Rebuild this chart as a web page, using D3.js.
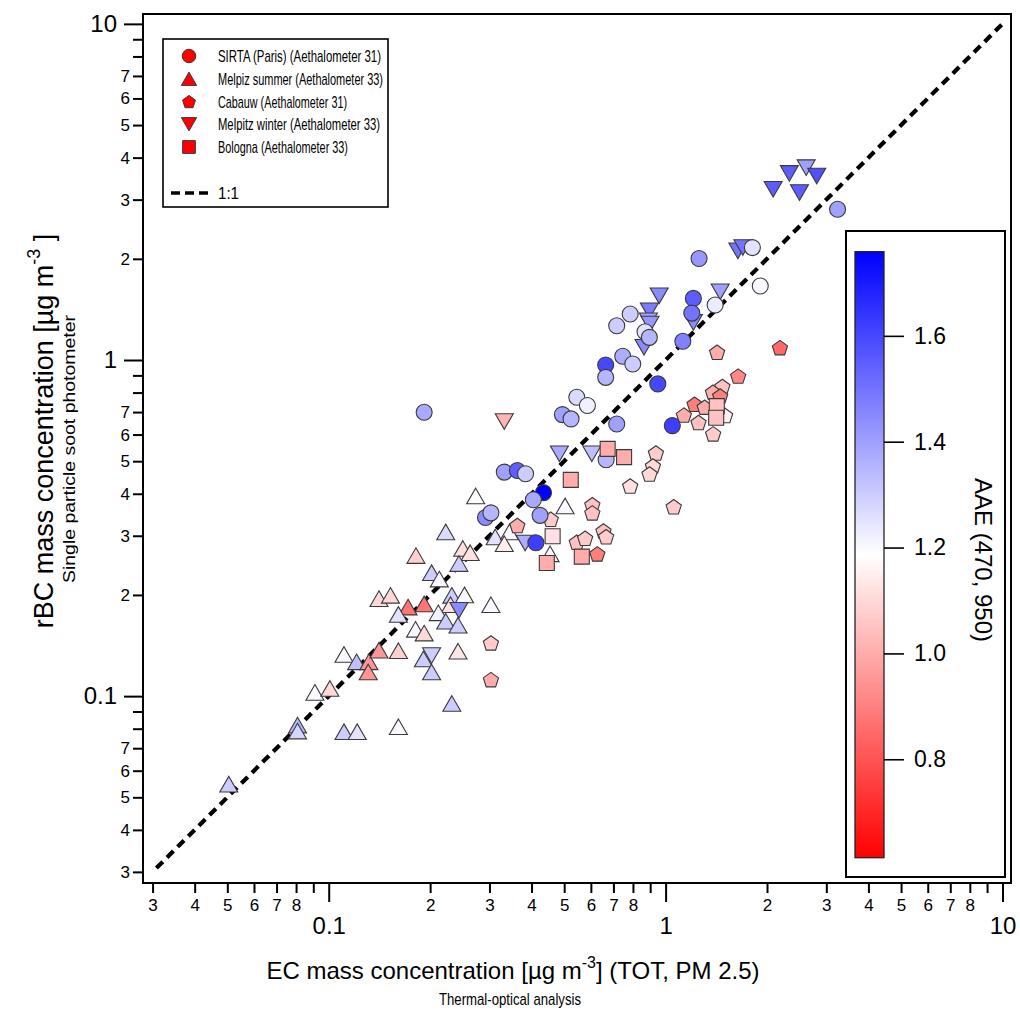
<!DOCTYPE html>
<html>
<head>
<meta charset="utf-8">
<script src="https://cdn.jsdelivr.net/npm/d3@7"></script>
<style>
  body { margin: 0; background: #fff; }
  svg { display: block; }
  text { font-family: "Liberation Sans", Arial, Helvetica, sans-serif; fill: #000; }
</style>
</head>
<body>
<svg id="chart" width="1020" height="1012"></svg>
<script>
// ---- data: EC (thermal-optical) vs rBC (SP2), coloured by AAE(470,950) ----
const sirtaEC  = [3.24, 1.257, 1.81, 1.91, 1.403, 1.209, 1.196, 1.125, 0.785, 0.716, 0.869, 0.895, 0.664, 0.664, 0.746, 0.799, 0.948, 0.545, 0.586, 0.494, 0.524, 0.716, 1.047, 0.192, 0.666, 0.332, 0.363, 0.384, 0.434, 0.405, 0.292, 0.303, 0.424, 0.412];
const sirtaRBC = [2.81, 2.005, 2.16, 1.66, 1.457, 1.525, 1.379, 1.137, 1.370, 1.264, 1.214, 1.168, 0.966, 0.888, 1.026, 0.973, 0.849, 0.775, 0.732, 0.688, 0.668, 0.645, 0.638, 0.699, 0.505, 0.464, 0.469, 0.459, 0.403, 0.384, 0.340, 0.351, 0.345, 0.286];
const sirtaAAE = [1.40, 1.42, 1.25, 1.20, 1.23, 1.55, 1.50, 1.47, 1.30, 1.30, 1.25, 1.35, 1.60, 1.35, 1.37, 1.30, 1.60, 1.27, 1.22, 1.40, 1.35, 1.40, 1.62, 1.38, 1.35, 1.40, 1.55, 1.30, 1.76, 1.38, 1.45, 1.35, 1.40, 1.62];

const summerEC  = [0.273, 0.503, 0.2225, 0.312, 0.344, 0.332, 0.454, 0.250, 0.263, 0.2435, 0.1815, 0.202, 0.213, 0.141, 0.1525, 0.172, 0.192, 0.161, 0.232, 0.253, 0.230, 0.303, 0.2115, 0.2225, 0.242, 0.181, 0.192, 0.111, 0.121, 0.1316, 0.131, 0.141, 0.161, 0.191, 0.202, 0.242, 0.091, 0.1008, 0.232, 0.0808, 0.0808, 0.111, 0.1215, 0.161, 0.0505];
const summerRBC = [0.394, 0.368, 0.308, 0.2975, 0.308, 0.284, 0.265, 0.275, 0.267, 0.248, 0.262, 0.233, 0.223, 0.195, 0.1995, 0.184, 0.188, 0.175, 0.1995, 0.200, 0.187, 0.187, 0.177, 0.167, 0.1625, 0.158, 0.154, 0.133, 0.1265, 0.1265, 0.118, 0.137, 0.1365, 0.129, 0.118, 0.136, 0.1026, 0.1054, 0.0951, 0.082, 0.0787, 0.0784, 0.0784, 0.0811, 0.0547];
const summerAAE = [1.18, 1.20, 1.27, 1.25, 1.20, 1.15, 1.20, 1.12, 1.12, 1.30, 1.08, 1.30, 1.20, 1.10, 1.10, 0.88, 0.88, 1.25, 1.30, 1.20, 1.12, 1.20, 1.22, 1.30, 1.30, 1.20, 1.10, 1.20, 1.33, 0.95, 0.95, 0.95, 1.08, 1.30, 1.30, 1.13, 1.20, 1.10, 1.30, 1.35, 1.28, 1.30, 1.25, 1.20, 1.30];

const cabauwEC  = [2.185, 1.422, 1.642, 1.474, 1.382, 1.452, 1.219, 1.306, 1.133, 1.252, 1.384, 1.502, 0.936, 0.917, 0.896, 0.785, 1.057, 0.606, 0.606, 0.456, 0.363, 0.545, 0.577, 0.654, 0.666, 0.627, 0.303, 0.303];
const cabauwRBC = [1.089, 1.055, 0.896, 0.834, 0.802, 0.782, 0.739, 0.724, 0.686, 0.652, 0.603, 0.684, 0.529, 0.484, 0.458, 0.422, 0.366, 0.371, 0.351, 0.336, 0.322, 0.287, 0.295, 0.310, 0.298, 0.265, 0.144, 0.112];
const cabauwAAE = [0.85, 1.00, 0.92, 1.05, 1.00, 0.90, 0.90, 1.00, 1.00, 1.05, 1.07, 1.15, 1.07, 1.10, 1.10, 1.12, 1.07, 1.05, 1.05, 1.07, 1.00, 1.05, 1.07, 1.05, 1.07, 0.90, 1.07, 1.00];

const winterEC  = [2.086, 2.33, 2.614, 2.81, 2.497, 1.639, 1.696, 1.452, 1.209, 0.957, 0.895, 0.889, 0.899, 0.863, 0.332, 0.484, 0.604, 0.383, 0.2435, 0.202];
const winterRBC = [3.22, 3.59, 3.735, 3.527, 3.148, 2.112, 2.161, 1.595, 1.294, 1.552, 1.401, 1.308, 1.279, 1.091, 0.656, 0.526, 0.526, 0.2855, 0.180, 0.132];
const winterAAE = [1.55, 1.55, 1.40, 1.58, 1.55, 1.50, 1.50, 1.40, 1.45, 1.45, 1.48, 1.40, 1.42, 1.45, 1.02, 1.38, 1.33, 1.37, 1.45, 1.30];

const bolognaEC  = [1.419, 1.413, 0.673, 0.753, 0.523, 0.462, 0.564, 0.444];
const bolognaRBC = [0.729, 0.673, 0.544, 0.514, 0.440, 0.299, 0.260, 0.249];
const bolognaAAE = [1.05, 1.05, 1.00, 1.00, 1.00, 1.12, 1.00, 1.00];

const legendLabels = ["SIRTA (Paris) (Aethalometer 31)", "Melpiz summer (Aethalometer 33)", "Cabauw (Aethalometer 31)", "Melpitz winter (Aethalometer 33)", "Bologna (Aethalometer 33)"];
const legendShapes = ["circle", "up", "pentagon", "down", "square"];

const xMinorTicks = [0.03,0.04,0.05,0.06,0.07,0.08,0.09,0.2,0.3,0.4,0.5,0.6,0.7,0.8,0.9,2,3,4,5,6,7,8,9];
const yMinorTicks = [0.03,0.04,0.05,0.06,0.07,0.08,0.09,0.2,0.3,0.4,0.5,0.6,0.7,0.8,0.9,2,3,4,5,6,7,8,9];
const majorTicks = [0.1, 1, 10];
const aaeTicks = [0.8, 1.0, 1.2, 1.4, 1.6];
const aaeRange = [0.614, 1.759];

// ---- layout ----
const svg = d3.select("#chart");
const L = 143, R = 1011, T = 14, B = 883;

const x = d3.scaleLog().domain([0.0281, 10.6]).range([L, R]);
const y = d3.scaleLog().domain([0.0278, 10.7]).range([B, T]);

const aaeMid = (aaeRange[0] + aaeRange[1]) / 2;
const color = d3.scaleLinear()
  .domain([aaeRange[0], aaeMid, aaeRange[1]])
  .range(["#ff0000", "#ffffff", "#0000ff"])
  .clamp(true);

// marker outlines
function shapePath(kind, s) {
  switch (kind) {
    case "circle": {
      const r = 8 * s;
      return `M${-r},0A${r},${r} 0 1,0 ${r},0A${r},${r} 0 1,0 ${-r},0Z`;
    }
    case "square": {
      const h = 7.5 * s;
      return `M${-h},${-h}H${h}V${h}H${-h}Z`;
    }
    case "up": {
      const w = 9 * s, h = 7.8 * s;
      return `M0,${-h}L${w},${h}L${-w},${h}Z`;
    }
    case "down": {
      const w = 9 * s, h = 7.8 * s;
      return `M0,${h}L${w},${-h}L${-w},${-h}Z`;
    }
    case "pentagon": {
      const r = 8 * s;
      const pts = d3.range(5).map(i => {
        const a = -Math.PI / 2 + i * 2 * Math.PI / 5;
        return [r * Math.cos(a), r * Math.sin(a) + 0.8 * s];
      });
      return "M" + pts.map(p => p.join(",")).join("L") + "Z";
    }
  }
}

// narrow a text element to a set width
function fitWidth(sel, w) {
  sel.attr("textLength", w).attr("lengthAdjust", "spacingAndGlyphs");
}

// ---- 1:1 reference line ----
const oneToOne = [0.0308, 10];
svg.append("line")
  .attr("x1", x(oneToOne[0])).attr("y1", y(oneToOne[0]))
  .attr("x2", x(oneToOne[1])).attr("y2", y(oneToOne[1]))
  .attr("stroke", "#000").attr("stroke-width", 4.2)
  .attr("stroke-dasharray", "9,6");

// ---- markers ----
function drawSeries(ec, rbc, aae, kind) {
  const pts = ec.map((v, i) => ({ ec: v, rbc: rbc[i], aae: aae[i] }));
  svg.append("g").selectAll("path").data(pts).join("path")
    .attr("d", shapePath(kind, 1))
    .attr("transform", d => `translate(${x(d.ec)},${y(d.rbc)})`)
    .attr("fill", d => color(d.aae))
    .attr("stroke", "#3a3a3a").attr("stroke-width", 1.1);
}
drawSeries(summerEC, summerRBC, summerAAE, "up");
drawSeries(cabauwEC, cabauwRBC, cabauwAAE, "pentagon");
drawSeries(winterEC, winterRBC, winterAAE, "down");
drawSeries(sirtaEC, sirtaRBC, sirtaAAE, "circle");
drawSeries(bolognaEC, bolognaRBC, bolognaAAE, "square");

// ---- axes ----
const digit = v => { const e = Math.floor(Math.log10(v) + 1e-9); return String(Math.round(v / Math.pow(10, e))); };

const xMinor = d3.axisBottom(x).tickValues(xMinorTicks).tickSize(10).tickPadding(6)
  .tickFormat(v => (digit(v) === "9" ? "" : digit(v)));
const xMajor = d3.axisBottom(x).tickValues(majorTicks).tickSize(19).tickPadding(15)
  .tickFormat(d3.format("~g"));
const yMinor = d3.axisLeft(y).tickValues(yMinorTicks).tickSize(10).tickPadding(3)
  .tickFormat(v => (["8", "9"].includes(digit(v)) ? "" : digit(v)));
const yMajor = d3.axisLeft(y).tickValues(majorTicks).tickSize(19).tickPadding(7)
  .tickFormat(d3.format("~g"));

function styleAxis(g, fontSize) {
  g.select(".domain").remove();
  g.selectAll(".tick line").attr("stroke", "#000").attr("stroke-width", 2);
  g.selectAll(".tick text").attr("font-size", fontSize)
    .attr("font-family", '"Liberation Sans", Arial, sans-serif').attr("fill", "#000");
}
svg.append("g").attr("transform", `translate(0,${B})`).call(xMinor).call(g => styleAxis(g, 17));
svg.append("g").attr("transform", `translate(0,${B})`).call(xMajor).call(g => styleAxis(g, 24));
svg.append("g").attr("transform", `translate(${L},0)`).call(yMinor).call(g => styleAxis(g, 17));
svg.append("g").attr("transform", `translate(${L},0)`).call(yMajor).call(g => styleAxis(g, 24));

// frame
svg.append("rect").attr("x", L).attr("y", T).attr("width", R - L).attr("height", B - T)
  .attr("fill", "none").attr("stroke", "#000").attr("stroke-width", 2);

// ---- axis titles ----
const xt = svg.append("text").attr("x", 513).attr("y", 979).attr("text-anchor", "middle").attr("font-size", 24);
xt.append("tspan").text("EC mass concentration  [µg m");
xt.append("tspan").attr("dy", -11).attr("font-size", 16).text("-3");
xt.append("tspan").attr("dy", 11).text("]  (TOT, PM 2.5)");
svg.append("text").attr("x", 510).attr("y", 1005).attr("text-anchor", "middle").attr("font-size", 17)
  .text("Thermal-optical analysis").call(fitWidth, 142);

const yt = svg.append("text").attr("transform", "translate(53,431) rotate(-90)").attr("text-anchor", "middle").attr("font-size", 27);
yt.append("tspan").text("rBC mass concentration [µg m");
yt.append("tspan").attr("dy", -13).attr("font-size", 18).text("-3");
yt.append("tspan").attr("dy", 13).text(" ]");
svg.append("text").attr("transform", "translate(75,449) rotate(-90)").attr("text-anchor", "middle").attr("font-size", 16.5)
  .text("Single particle soot photometer").call(fitWidth, 268);

// ---- legend ----
const legendWidths = [163, 165, 129, 162, 130];
const lg = svg.append("g");
lg.append("rect").attr("x", 163).attr("y", 39).attr("width", 225).attr("height", 168)
  .attr("fill", "#fff").attr("stroke", "#000").attr("stroke-width", 1.6);
const rowY = d3.scalePoint().domain(legendLabels).range([56, 147]);
legendLabels.forEach((lab, i) => {
  lg.append("path").attr("d", shapePath(legendShapes[i], 0.85))
    .attr("transform", `translate(189,${rowY(lab)})`)
    .attr("fill", "#ff0000").attr("stroke", "#3a3a3a").attr("stroke-width", 1);
  lg.append("text").attr("x", 218).attr("y", rowY(lab) + 6).attr("font-size", 17)
    .text(lab).call(fitWidth, legendWidths[i]);
});
lg.append("line").attr("x1", 171).attr("x2", 209).attr("y1", 193).attr("y2", 193)
  .attr("stroke", "#000").attr("stroke-width", 3.5).attr("stroke-dasharray", "9,5");
lg.append("text").attr("x", 218).attr("y", 199).attr("font-size", 17).text("1:1").call(fitWidth, 21);

// ---- colour bar ----
const cb = svg.append("g");
cb.append("rect").attr("x", 846).attr("y", 231).attr("width", 159).attr("height", 646)
  .attr("fill", "#fff").attr("stroke", "#000").attr("stroke-width", 2);
const cTop = 251.7, cBot = 857.7, cL = 855, cR = 884;
const cScale = d3.scaleLinear().domain(aaeRange).range([cBot, cTop]);
const grad = svg.append("defs").append("linearGradient").attr("id", "aaeGrad")
  .attr("x1", 0).attr("y1", 1).attr("x2", 0).attr("y2", 0);
d3.range(0, 1.0001, 0.05).forEach(t => {
  const v = aaeRange[0] + t * (aaeRange[1] - aaeRange[0]);
  grad.append("stop").attr("offset", t).attr("stop-color", color(v));
});
cb.append("rect").attr("x", cL).attr("y", cTop).attr("width", cR - cL).attr("height", cBot - cTop)
  .attr("fill", "url(#aaeGrad)").attr("stroke", "#222").attr("stroke-width", 1.3);
const cAxis = d3.axisRight(cScale).tickValues(aaeTicks).tickSize(20).tickPadding(10).tickFormat(d3.format(".1f"));
cb.append("g").attr("transform", `translate(${cR},0)`).call(cAxis).call(g => styleAxis(g, 23))
  .selectAll(".tick line").attr("stroke-width", 1.6);
cb.append("text").attr("transform", "translate(975,560) rotate(90)").attr("text-anchor", "middle")
  .attr("font-size", 24).text("AAE (470, 950)");
</script>
</body>
</html>
